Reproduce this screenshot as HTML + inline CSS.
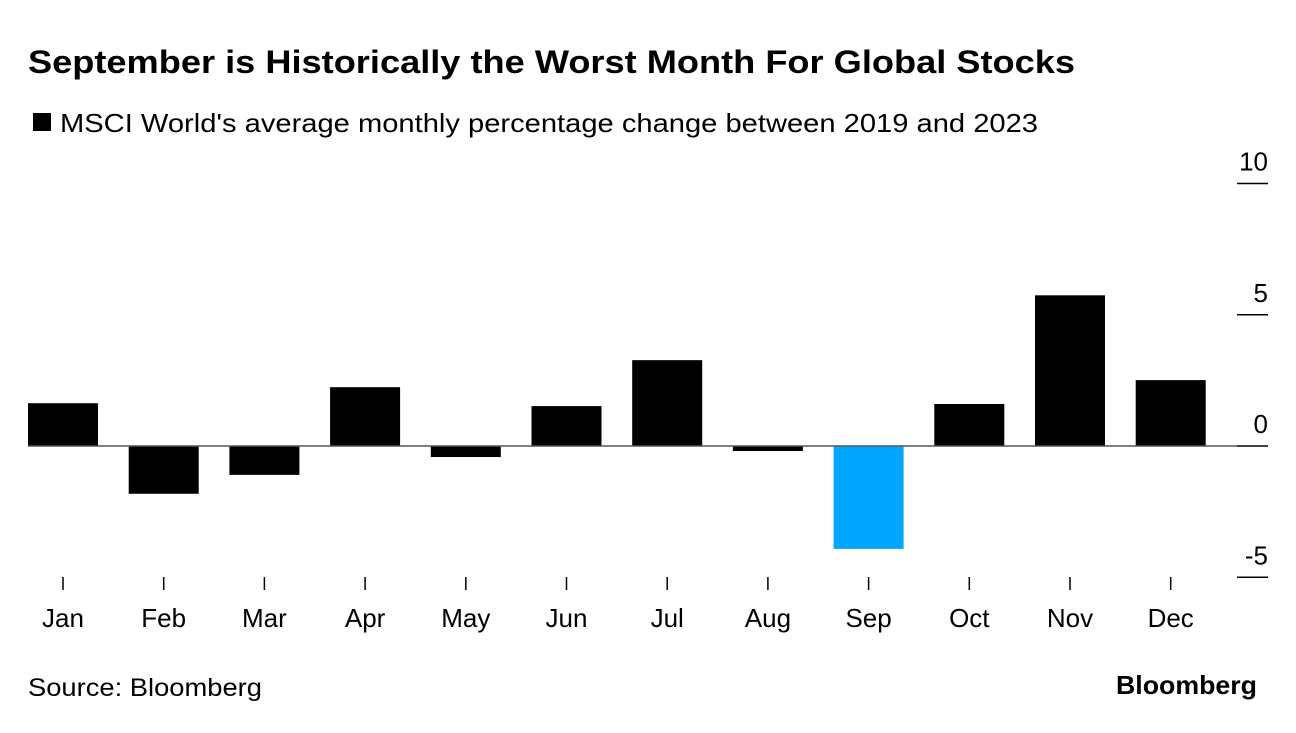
<!DOCTYPE html>
<html><head><meta charset="utf-8"><style>
body{margin:0;background:#fff;font-family:"Liberation Sans",Arial,sans-serif;}
</style></head><body>
<svg width="1296" height="728" xmlns="http://www.w3.org/2000/svg" font-family="Liberation Sans, Arial, sans-serif">
<text x="28" y="73" font-size="32" font-weight="bold" fill="#000" textLength="1047" lengthAdjust="spacingAndGlyphs">September is Historically the Worst Month For Global Stocks</text>
<rect x="33" y="113" width="18" height="18" fill="#000"/>
<text x="60" y="132" font-size="26" fill="#000" textLength="978" lengthAdjust="spacingAndGlyphs">MSCI World's average monthly percentage change between 2019 and 2023</text>
<g id="plot"></g>
<text x="28" y="696" font-size="25" fill="#000" textLength="234" lengthAdjust="spacingAndGlyphs">Source: Bloomberg</text>
<text x="1116" y="694" font-size="26" font-weight="bold" fill="#000" textLength="141" lengthAdjust="spacingAndGlyphs">Bloomberg</text>
</svg>
<script>
const months=["Jan","Feb","Mar","Apr","May","Jun","Jul","Aug","Sep","Oct","Nov","Dec"];
const values=[1.63,-1.82,-1.1,2.24,-0.42,1.52,3.27,-0.19,-3.92,1.6,5.74,2.51];
const yTicks=[10,5,0,-5];
const yTickLabels=["10","5","0","-5"];
const highlight="Sep";
const NS="http://www.w3.org/2000/svg";
const g=document.getElementById('plot');
function y(v){return 446-(v*26.25);}
function xc(i){return 63+i*100.7;}
function mk(t,a){const e=document.createElementNS(NS,t);for(const k in a)e.setAttribute(k,a[k]);g.appendChild(e);return e;}
yTicks.forEach((t,i)=>{
  const l=mk('line',{x1:1237,x2:1268,y1:y(t),y2:y(t),stroke:'#000','stroke-width':1.5});
  
  
  const tx=mk('text',{x:1268,y:y(t)-13,'font-size':26,'text-anchor':'end',fill:'#000'});
  tx.textContent=yTickLabels[i];
  
  
});
values.forEach((v,i)=>{
  const top=Math.min(y(v),y(0)),h=Math.abs(y(v)-y(0));
  const r=mk('rect',{x:xc(i)-35,y:top,width:70,height:h,fill:months[i]===highlight?'#00a6ff':'#000'});
  
  
  const t=mk('line',{x1:xc(i),x2:xc(i),y1:577,y2:590,stroke:'#000','stroke-width':1.5});
  
  
  const tx=mk('text',{x:xc(i),y:627,'font-size':26,'text-anchor':'middle',fill:'#000'});
  tx.textContent=months[i];
  
  
});
const z=mk('line',{x1:28,x2:1237,y1:y(0),y2:y(0),stroke:'#555','stroke-width':1.5});


</script>
</body></html>
